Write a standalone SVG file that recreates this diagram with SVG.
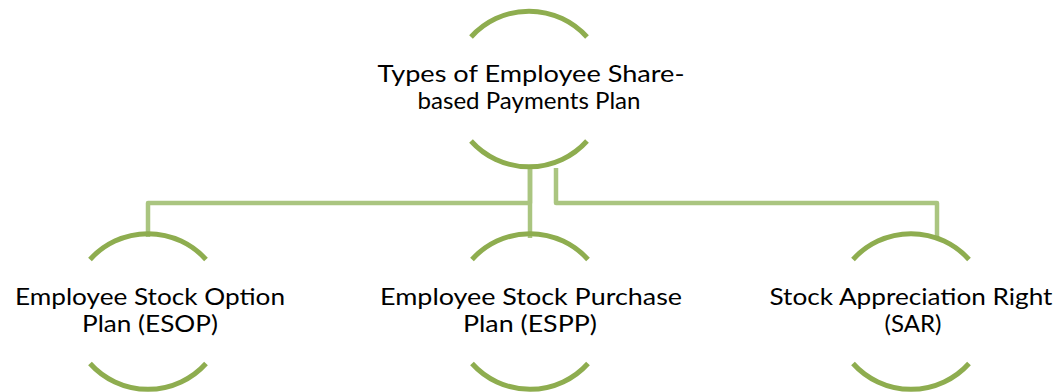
<svg xmlns="http://www.w3.org/2000/svg" width="1062" height="392" viewBox="0 0 1062 392">
  <style>
    .arc { fill: none; stroke: #8EAD4F; stroke-width: 5; }
    .link { fill: none; stroke: #AAC580; stroke-width: 4.5; stroke-linejoin: round; }
    .label { font-family: Lato, "Open Sans", "Liberation Sans", sans-serif; font-size: 23px; fill: #000; text-anchor: middle; }
  </style>

  <!-- connectors from the root to each plan -->
  <g id="connectors">
    <path class="link" d="M530,168 V203 H148 V237"/>
    <path class="link" d="M530,168 V238"/>
    <path class="link" d="M556,168 V203 H937 V237"/>
  </g>

  <!-- root node -->
  <g id="root">
    <path class="arc" d="M471,37 A78,78 0 0 1 587,37"/>
    <path class="arc" d="M471,141 A78,78 0 0 0 587,141"/>
    <text class="label" x="531" y="82" textLength="307" lengthAdjust="spacingAndGlyphs">Types of Employee Share-</text>
    <text class="label" x="529" y="109" textLength="223" lengthAdjust="spacingAndGlyphs">based Payments Plan</text>
  </g>

  <!-- ESOP -->
  <g id="esop">
    <path class="arc" d="M90,259.5 A78,78 0 0 1 206,259.5"/>
    <path class="arc" d="M90,363.5 A78,78 0 0 0 206,363.5"/>
    <text class="label" x="150" y="305" textLength="270" lengthAdjust="spacingAndGlyphs">Employee Stock Option</text>
    <text class="label" x="150" y="332" textLength="136" lengthAdjust="spacingAndGlyphs">Plan (ESOP)</text>
  </g>

  <!-- ESPP -->
  <g id="espp">
    <path class="arc" d="M472,259.5 A78,78 0 0 1 588,259.5"/>
    <path class="arc" d="M472,363.5 A78,78 0 0 0 588,363.5"/>
    <text class="label" x="531" y="305" textLength="302" lengthAdjust="spacingAndGlyphs">Employee Stock Purchase</text>
    <text class="label" x="530" y="332" textLength="134" lengthAdjust="spacingAndGlyphs">Plan (ESPP)</text>
  </g>

  <!-- SAR -->
  <g id="sar">
    <path class="arc" d="M853,259.5 A78,78 0 0 1 969,259.5"/>
    <path class="arc" d="M853,363.5 A78,78 0 0 0 969,363.5"/>
    <text class="label" x="911" y="305" textLength="283" lengthAdjust="spacingAndGlyphs">Stock Appreciation Right</text>
    <text class="label" x="913" y="332" textLength="57" lengthAdjust="spacingAndGlyphs">(SAR)</text>
  </g>
</svg>
